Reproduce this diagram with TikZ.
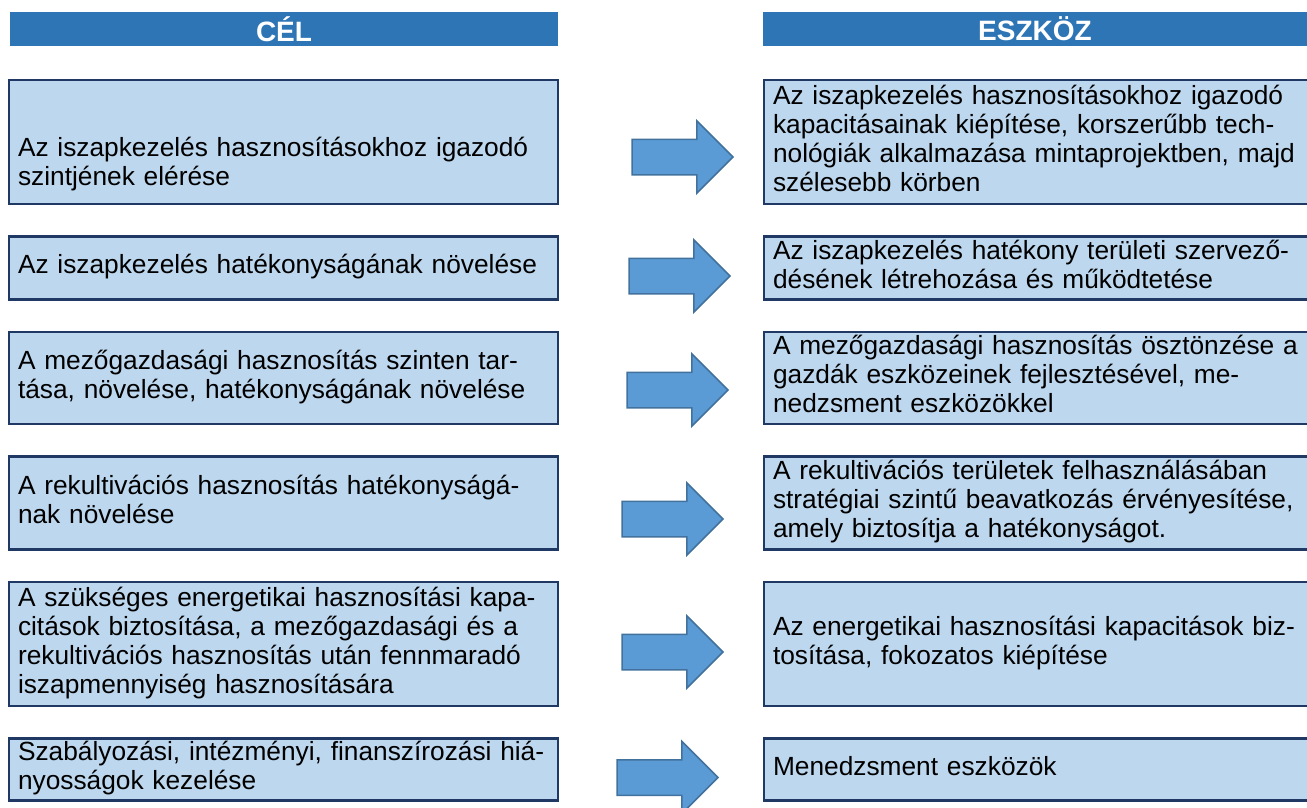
\documentclass[tikz,border=0pt]{standalone}
\usepackage{fontspec}
\setmainfont{Liberation Sans}
\usetikzlibrary{positioning,shapes.arrows}

\definecolor{barblue}{HTML}{2E75B6}
\definecolor{boxfill}{HTML}{BDD7EE}
\definecolor{boxline}{HTML}{1F3864}
\definecolor{arrowfill}{HTML}{5B9BD5}
\definecolor{arrowline}{HTML}{41719C}

\begin{document}
\begin{tikzpicture}[
        x=1pt, y=-1pt,
        node distance=32.5pt,
        bar/.style={rectangle, fill=barblue, text=white, font=\fontsize{28}{32}\selectfont\bfseries, minimum height=34pt, inner sep=0pt, outer sep=0pt},
        block/.style={rectangle, draw=boxline, fill=boxfill, line width=2.25pt, inner xsep=9pt, inner ysep=0pt, outer sep=0pt, align=left, font=\fontsize{26.3}{29}\selectfont, execute at begin node=\strut, execute at end node=\strut},
        goal/.style={block, text width=531pt},
        tool/.style={block, text width=542pt},
        bigarrow/.style={single arrow, draw=arrowline, fill=arrowfill, line width=1.5pt, minimum height=101pt, minimum width=71pt, single arrow head extend=18.5pt, inner xsep=0pt, inner ysep=17pt, outer sep=0pt}
    ]
        \useasboundingbox (0,0) rectangle (1307,807);

        % headers
        \node [bar, minimum width=548pt, anchor=north west] (cel) at (10,12) {CÉL};
        \node [bar, minimum width=544pt, anchor=north west] (eszkoz) at (763,12) {ESZKÖZ};

        % goals
        \node [goal, minimum height=124pt, anchor=north west] (g1) at (9,80) {\strut\\[-12pt]\strut\\Az iszapkezelés hasznosításokhoz igazodó\\szintjének elérése};
        \node [goal, minimum height=63pt, below=of g1] (g2) {Az iszapkezelés hatékonyságának növelése};
        \node [goal, minimum height=92pt, below=of g2] (g3) {A mezőgazdasági hasznosítás szinten tar-\\tása, növelése, hatékonyságának növelése};
        \node [goal, minimum height=93pt, below=of g3] (g4) {A rekultivációs hasznosítás hatékonyságá-\\nak növelése};
        \node [goal, minimum height=124pt, below=of g4] (g5) {A szükséges energetikai hasznosítási kapa-\\citások biztosítása, a mezőgazdasági és a\\rekultivációs hasznosítás után fennmaradó\\iszapmennyiség hasznosítására};
        \node [goal, minimum height=62pt, below=of g5] (g6) {Szabályozási, intézményi, finanszírozási hiá-\\nyosságok kezelése};

        % tools
        \node [tool, minimum height=124pt, right=206pt of g1] (t1) {Az iszapkezelés hasznosításokhoz igazodó\\kapacitásainak kiépítése, korszerűbb tech-\\nológiák alkalmazása mintaprojektben, majd\\szélesebb körben};
        \node [tool, minimum height=63pt, right=206pt of g2] (t2) {Az iszapkezelés hatékony területi szervező-\\désének létrehozása és működtetése};
        \node [tool, minimum height=92pt, right=206pt of g3] (t3) {A mezőgazdasági hasznosítás ösztönzése a\\gazdák eszközeinek fejlesztésével, me-\\nedzsment eszközökkel};
        \node [tool, minimum height=93pt, right=206pt of g4] (t4) {A rekultivációs területek felhasználásában\\stratégiai szintű beavatkozás érvényesítése,\\amely biztosítja a hatékonyságot.};
        \node [tool, minimum height=124pt, right=206pt of g5] (t5) {Az energetikai hasznosítási kapacitások biz-\\tosítása, fokozatos kiépítése};
        \node [tool, minimum height=62pt, right=206pt of g6] (t6) {Menedzsment eszközök};

        % arrows
        \node [bigarrow, right=74pt of g1, yshift=-15pt] (a1) {};
        \node [bigarrow, right=71pt of g2, yshift=-8pt] (a2) {};
        \node [bigarrow, right=69pt of g3, yshift=-12pt] (a3) {};
        \node [bigarrow, right=64pt of g4, yshift=-16pt] (a4) {};
        \node [bigarrow, right=64pt of g5, yshift=-8pt] (a5) {};
        \node [bigarrow, right=59pt of g6, yshift=-8pt] (a6) {};
    \end{tikzpicture}
\end{document}
